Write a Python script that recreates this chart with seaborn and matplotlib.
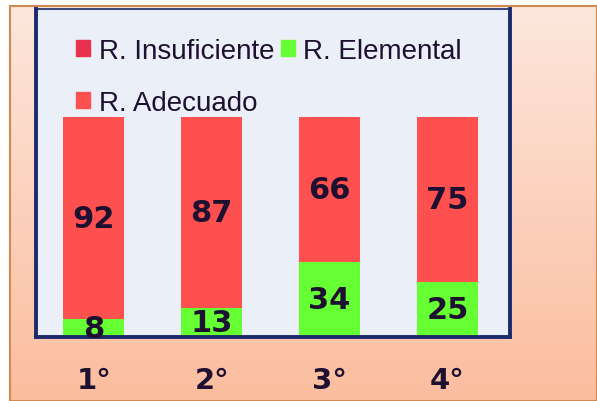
import numpy as np
import pandas as pd
import seaborn as sns
import matplotlib.pyplot as plt
from matplotlib.patches import Patch, Rectangle

# -- datos
grados = ["1°", "2°", "3°", "4°"]
insuficiente = [0, 0, 0, 0]
elemental = [8, 13, 34, 25]
adecuado = [92, 87, 66, 75]

c_insuf = "#E8304F"
c_elem = "#66FF33"
c_adec = "#FF5050"
c_texto = "#1E1030"
c_marco = "#1B2B6B"

df = pd.DataFrame({"grado": grados, "insuf": insuficiente,
                   "elem": elemental, "adec": adecuado})
df["h_elem"] = df["insuf"] + df["elem"]
df["h_adec"] = df["h_elem"] + df["adec"]

sns.set_style("white")
fig = plt.figure(figsize=(5.97, 4.02), dpi=100)
fig.patch.set_facecolor("white")

# -- fondo degradado del panel
bg = fig.add_axes([10 / 597, 0, 1 - 10 / 597, 1 - 7 / 402], zorder=0)
grad = np.linspace(0, 1, 256).reshape(-1, 1)
bg.imshow(grad, aspect="auto", extent=[0, 1, 0, 1],
          cmap=plt.matplotlib.colors.LinearSegmentedColormap.from_list(
              "g", ["#FDE7DD", "#FBBD9E"]))
bg.set_axis_off()
bg.add_patch(Rectangle((0, 0), 1, 1, transform=bg.transAxes, fill=False,
                       edgecolor="#D0894E", linewidth=1.5, clip_on=False))

ax = fig.add_axes([36 / 597, 64 / 402, 474 / 597, 328 / 402], zorder=1)
ax.set_facecolor("#EBF0F8")

# -- barras apiladas
sns.barplot(data=df, x="grado", y="h_adec", color=c_adec, width=0.52,
            saturation=1, linewidth=0, ax=ax)
sns.barplot(data=df, x="grado", y="h_elem", color=c_elem, width=0.52,
            saturation=1, linewidth=0, ax=ax)
sns.barplot(data=df, x="grado", y="insuf", color=c_insuf, width=0.52,
            saturation=1, linewidth=0, ax=ax)

# etiquetas de valores
for i in range(len(grados)):
    for base, v in [(df["insuf"][i], elemental[i]), (df["h_elem"][i], adecuado[i])]:
        if v > 0:
            ax.text(i, base + v / 2, str(v), ha="center", va="center",
                    fontsize=22, fontweight="bold", color=c_texto, zorder=5)

ax.set_ylim(0, 149)
ax.set_xlim(-0.49, 3.53)
ax.set_yticks([])
ax.set_xlabel("")
ax.set_ylabel("")
ax.tick_params(axis="x", length=0, pad=21)
for lab in ax.get_xticklabels():
    lab.set_fontsize(21)
    lab.set_fontweight("bold")
    lab.set_color(c_texto)

for s in ["left", "right", "bottom"]:
    ax.spines[s].set_color(c_marco)
    ax.spines[s].set_linewidth(2.8)
ax.spines["top"].set_color(c_marco)
ax.spines["top"].set_linewidth(1.2)

# orden por columnas: Insuficiente, Adecuado | Elemental
handles = [Patch(color=c_insuf), Patch(color=c_adec), Patch(color=c_elem)]
labels = ["R. Insuficiente", "R. Adecuado", "R. Elemental"]
leg = ax.legend(handles, labels, ncol=2, loc="upper left",
                bbox_to_anchor=(0.062, 0.945), frameon=False,
                prop={"family": "Liberation Sans", "size": 20},
                handlelength=0.5, handleheight=0.5, handletextpad=0.3,
                columnspacing=0.25, labelspacing=0.92, borderaxespad=0)
for t in leg.get_texts():
    t.set_color(c_texto)

fig.savefig("out.png", dpi=100)
